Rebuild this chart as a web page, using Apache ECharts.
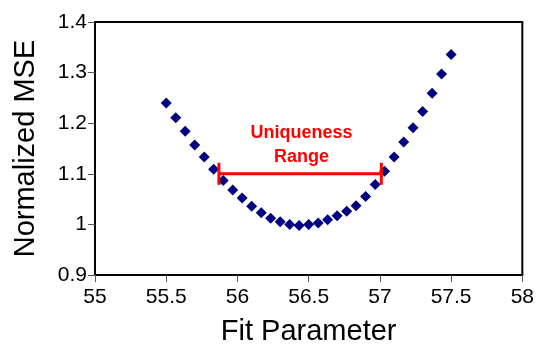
<!DOCTYPE html>
<html>
<head>
<meta charset="utf-8">
<script src="https://cdn.jsdelivr.net/npm/echarts@6/dist/echarts.min.js"></script>
<style>html,body{margin:0;padding:0;background:#fff}#c{width:537px;height:357px}</style>
</head>
<body>
<div id="c"></div>
<script>
// Data
const fitParam = [55.5, 55.567, 55.633, 55.7, 55.767, 55.833, 55.9, 55.967, 56.033, 56.1,
  56.167, 56.233, 56.3, 56.367, 56.433, 56.5, 56.567, 56.633, 56.7, 56.767,
  56.833, 56.9, 56.967, 57.033, 57.1, 57.167, 57.233, 57.3, 57.367, 57.433, 57.5];
const mse = [1.240, 1.211, 1.184, 1.157, 1.133, 1.109, 1.087, 1.068, 1.052, 1.036,
  1.023, 1.012, 1.005, 1.000, 0.998, 1.000, 1.003, 1.009, 1.017, 1.026,
  1.037, 1.055, 1.079, 1.105, 1.133, 1.163, 1.191, 1.223, 1.259, 1.297, 1.336];
const rangeX = [55.87, 57.01];
const rangeY = 1.1;
const rangeLabel = ['Uniqueness', 'Range'];
const rangeLabelPos = [56.45, 1.157];
const xTicks = [55, 55.5, 56, 56.5, 57, 57.5, 58];
const yTicks = [0.9, 1, 1.1, 1.2, 1.3, 1.4];

const font = 'Liberation Sans, Arial, sans-serif';
const chart = echarts.init(document.getElementById('c'));
chart.setOption({
  animation: false,
  grid: { left: 95, right: 14, top: 22, bottom: 82, show: true, borderColor: '#000', borderWidth: 2, backgroundColor: 'transparent' },
  xAxis: {
    type: 'value', min: xTicks[0], max: xTicks[xTicks.length - 1], interval: 0.5,
    name: 'Fit Parameter', nameLocation: 'middle', nameGap: 42,
    nameTextStyle: { fontFamily: font, fontSize: 29, color: '#000' },
    axisLine: { lineStyle: { color: '#000', width: 2 } },
    axisTick: { show: true, length: 7, lineStyle: { color: '#555', width: 1 } },
    axisLabel: { fontFamily: font, fontSize: 21, color: '#000', margin: 12 },
    splitLine: { show: false }
  },
  yAxis: {
    type: 'value', min: yTicks[0], max: yTicks[yTicks.length - 1], interval: 0.1,
    name: 'Normalized MSE', nameLocation: 'middle', nameGap: 55,
    nameTextStyle: { fontFamily: font, fontSize: 29, color: '#000' },
    axisLine: { lineStyle: { color: '#000', width: 2 } },
    axisTick: { show: true, length: 7, lineStyle: { color: '#555', width: 1 } },
    axisLabel: { fontFamily: font, fontSize: 21, color: '#000', margin: 8,
      formatter: v => String(Math.round(v * 10) / 10) },
    splitLine: { show: false }
  },
  series: [
    {
      type: 'scatter',
      data: fitParam.map((x, i) => [x, mse[i]]),
      symbol: 'diamond', symbolSize: 11,
      itemStyle: { color: '#000080', opacity: 1 },
      z: 3
    },
    {
      type: 'line',
      data: rangeX.map(x => [x, rangeY]),
      symbol: 'rect', symbolSize: [3, 22],
      itemStyle: { color: '#ff0000', opacity: 1 },
      lineStyle: { color: '#ff0000', width: 3 },
      z: 4
    },
    {
      type: 'scatter',
      data: [rangeLabelPos],
      symbolSize: 0,
      itemStyle: { opacity: 1 },
      label: {
        show: true, position: 'inside',
        formatter: rangeLabel.join('\n'),
        fontFamily: font, fontSize: 18, fontWeight: 'bold', color: '#ff0000', lineHeight: 24, align: 'center'
      },
      z: 5
    }
  ]
});
</script>
</body>
</html>
